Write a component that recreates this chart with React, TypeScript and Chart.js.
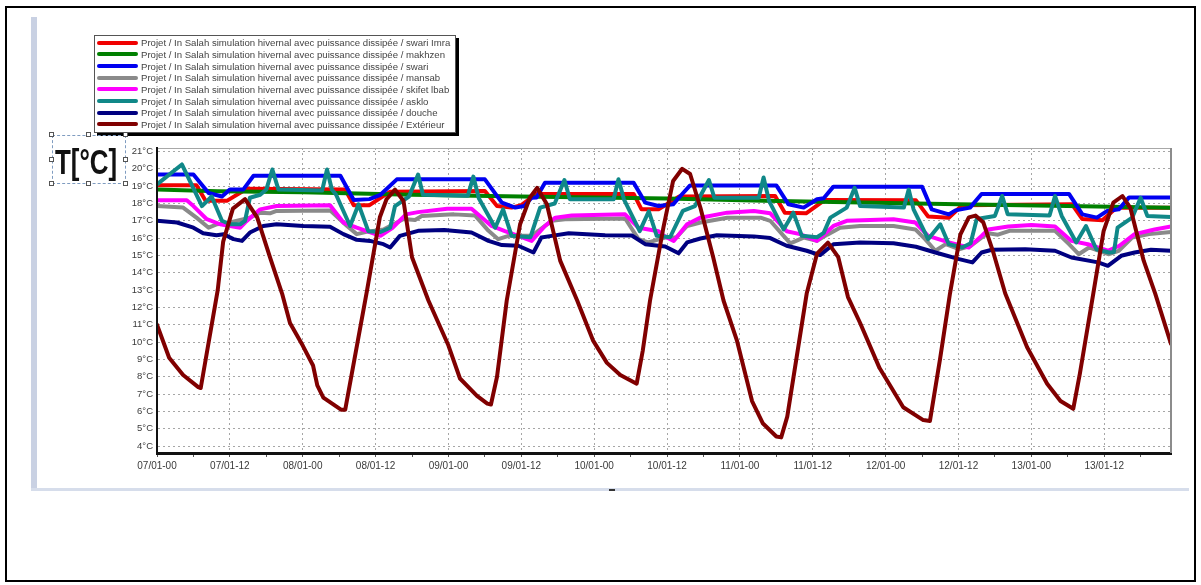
import React, { useEffect, useRef } from 'react';
import { Chart, registerables } from 'chart.js';

Chart.register(...registerables);

// ---------- DATA ----------
const seriesLabels = [
  'Projet / In Salah simulation hivernal avec puissance dissipée / swari Imra',
  'Projet / In Salah simulation hivernal avec puissance dissipée / makhzen',
  'Projet / In Salah simulation hivernal avec puissance dissipée / swari',
  'Projet / In Salah simulation hivernal avec puissance dissipée / mansab',
  'Projet / In Salah simulation hivernal avec puissance dissipée / skifet lbab',
  'Projet / In Salah simulation hivernal avec puissance dissipée / asklo',
  'Projet / In Salah simulation hivernal avec puissance dissipée / douche',
  'Projet / In Salah simulation hivernal avec puissance dissipée / Extérieur',
];
const seriesColors = ['#f00000', '#008000', '#0000f0', '#8a8a8a', '#ff00ff', '#108888', '#000080', '#800000'];

// [hour since 07/01-00, °C]
const swariImra: [number, number][] = [
  [0, 19.05], [6.5, 19.05], [8, 18.15], [11.5, 18.15], [14.8, 18.85], [31, 18.8], [32.4, 17.9], [35, 17.9],
  [38.4, 18.68], [54, 18.72], [56, 17.85], [58.4, 17.76], [60, 17.9], [62.5, 18.55], [78.5, 18.55],
  [79.8, 17.66], [82.6, 17.66], [86, 18.4], [101.8, 18.43], [103.4, 17.47], [106.9, 17.43], [110, 18.2],
  [125, 18.18], [127, 17.25], [130.4, 17.18], [132.6, 17.9], [150.7, 17.95], [152.4, 17.1], [155.7, 17.03],
  [158, 17.75], [167, 17.75],
];
const makhzen: [number, number][] = [
  [0, 18.8], [10, 18.7], [24, 18.65], [42, 18.5], [60, 18.4], [84, 18.28], [100, 18.15], [132, 17.95],
  [145, 17.88], [167, 17.75],
];
const swari: [number, number][] = [
  [0, 19.67], [6, 19.67], [8.5, 18.6], [10.7, 18.4], [12, 18.8], [14.2, 18.8], [15.9, 19.6], [30.2, 19.6],
  [32.4, 18.2], [35, 18.25], [36.8, 18.5], [39.5, 19.39], [54, 19.39], [56.8, 18.05], [59, 17.76],
  [60.5, 17.85], [61.7, 18.33], [62.5, 18.35], [63.9, 19.2], [78.5, 19.2], [80.4, 18.05], [82.6, 17.85],
  [85, 17.95], [86.2, 18.43], [87.8, 19.04], [102, 19.04], [104, 17.95], [106.5, 17.76], [108.7, 18.24],
  [109.8, 18.3], [111.4, 18.97], [126, 18.97], [127.6, 17.66], [130.4, 17.37], [131.5, 17.6], [133.9, 17.76],
  [135.8, 18.55], [150.2, 18.55], [152.4, 17.37], [154.8, 17.18], [156.5, 17.57], [158.4, 17.66],
  [160.1, 18.35], [167, 18.35],
];
const mansab: [number, number][] = [
  [0, 17.85], [4.3, 17.76], [6.5, 17.18], [8.5, 16.6], [9.9, 16.8], [12, 16.9], [15.3, 17.18], [17, 17.47],
  [18.6, 17.43], [19.7, 17.57], [28.5, 17.6], [31.3, 16.7], [32.9, 16.23], [34.5, 16.36], [37.3, 16.5],
  [40.6, 17.1], [42.5, 17.05], [43.6, 17.28], [48.9, 17.37], [52.4, 17.3], [54.6, 16.42], [56.2, 15.94],
  [57.9, 16.13], [61.7, 16.13], [62.8, 16.42], [65, 17.0], [67.2, 17.09], [77.1, 17.13], [79.3, 15.94],
  [80.9, 15.75], [83.7, 16.03], [85.5, 16.03], [87.3, 16.7], [89.5, 16.9], [93.9, 17.18], [99.4, 17.18],
  [101, 17.0], [103.2, 16.13], [104.3, 15.7], [106.5, 16.03], [108.7, 15.84], [110.4, 16.2], [112.5, 16.6],
  [115.8, 16.7], [121.3, 16.7], [124.9, 16.5], [126.5, 15.94], [128.2, 15.27], [129.9, 15.65],
  [132.1, 15.36], [134, 15.55], [135.8, 16.03], [136.9, 16.28], [138.5, 16.2], [140.4, 16.42],
  [147.9, 16.42], [150.2, 15.65], [151.8, 15.07], [153.5, 15.46], [156.8, 15.07], [158.4, 15.27],
  [160.6, 16.03], [163.4, 16.23], [167, 16.36],
];
const skifetLbab: [number, number][] = [
  [0, 18.18], [4.9, 18.18], [6, 17.85], [8.2, 17.09], [10.4, 16.8], [13.7, 16.6], [14.5, 16.9], [17, 17.66],
  [19.7, 17.85], [28.5, 17.9], [30.7, 16.9], [32.9, 16.6], [36.8, 16.13], [38.8, 16.6], [41, 17.37],
  [43, 17.5], [47.8, 17.7], [51.8, 17.7], [55.1, 16.7], [57.3, 16.4], [59.5, 16.13], [61.7, 15.84],
  [63.9, 16.7], [65.6, 17.18], [68.3, 17.3], [77.1, 17.37], [79.3, 16.6], [82.6, 16.4], [83.5, 16.13],
  [85.1, 15.84], [87.3, 16.8], [89.5, 17.18], [93.9, 17.47], [98.3, 17.57], [101, 17.43], [103.7, 16.4],
  [105.9, 16.23], [108.7, 15.84], [111.4, 16.7], [113.6, 17.0], [121.3, 17.09], [124.9, 16.9],
  [127, 16.13], [130.4, 15.75], [133.7, 15.46], [135.8, 16.13], [136.9, 16.5], [140.2, 16.67],
  [144, 16.76], [147.9, 16.67], [150.6, 15.84], [153.3, 15.65], [156.6, 15.27], [158.5, 15.56],
  [161, 16.23], [164.3, 16.5], [167, 16.67],
];
const asklo: [number, number][] = [
  [0, 19.1], [4.1, 20.25], [7.4, 17.85], [9, 18.4], [10.7, 17.0], [12, 16.8], [13.7, 16.8], [14.5, 17.0],
  [15.3, 18.33], [17, 18.5], [18, 18.8], [19, 19.96], [20, 18.8], [27.2, 18.75], [28, 19.96], [28.8, 18.8],
  [29.5, 18.5], [31.8, 16.7], [33.2, 17.95], [34.8, 16.4], [36.8, 16.35], [38.4, 16.6], [39.2, 17.85],
  [41.5, 18.4], [43, 19.67], [43.8, 18.5], [51.2, 18.45], [52.1, 19.55], [53, 18.3], [55.7, 16.6],
  [57, 17.66], [58.4, 16.13], [61.5, 16.05], [63.1, 17.76], [65.5, 18.0], [67.1, 19.35], [68, 18.24],
  [75.2, 18.24], [76, 19.4], [76.9, 18.24], [79.5, 16.4], [81, 17.55], [82.3, 16.13], [84.5, 16.05],
  [86.6, 17.57], [88.6, 17.85], [90.9, 19.35], [91.8, 18.33], [99.1, 18.33], [99.9, 19.5], [100.8, 18.15],
  [103.2, 16.5], [104.8, 17.47], [106.2, 16.13], [108.7, 16.05], [109.8, 16.3], [110.9, 17.18],
  [113.6, 17.76], [114.9, 18.9], [115.8, 17.85], [123, 17.76], [123.8, 18.8], [124.6, 17.66], [127, 15.94],
  [129, 16.8], [130.4, 15.65], [132.6, 15.46], [134, 15.7], [135, 17.1], [138, 17.28], [139.2, 18.43],
  [140.1, 17.38], [147, 17.3], [147.9, 18.43], [149, 17.28], [151.4, 15.75], [153, 16.7], [154.7, 15.36],
  [156.8, 15.17], [157.6, 15.2], [158.2, 16.6], [160.6, 17.18], [162, 18.33], [163.1, 17.28], [167, 17.22],
];
const douche: [number, number][] = [
  [0, 17.0], [3.3, 16.9], [6, 16.6], [7.6, 16.28], [9.8, 16.17], [11, 16.22], [12.6, 15.94], [14, 15.84],
  [15.3, 16.32], [17.5, 16.7], [19.7, 16.8], [24.1, 16.7], [28.5, 16.66], [30.7, 16.23], [32.9, 15.9],
  [35.1, 15.84], [37.3, 15.65], [38.4, 15.46], [40, 16.13], [43, 16.42], [47.3, 16.47], [51.8, 16.32],
  [54.6, 15.84], [56.8, 15.6], [59.5, 15.56], [62, 15.17], [63.3, 16.03], [65, 16.13], [67.8, 16.28],
  [73.8, 16.17], [78.2, 16.15], [80.4, 15.65], [83.7, 15.52], [85.9, 15.13], [87.3, 15.75], [89.5, 15.98],
  [92.2, 16.17], [98.3, 16.1], [101, 16.0], [103.7, 15.56], [107, 15.27], [109.2, 15.02], [111.4, 15.65],
  [115.8, 15.75], [121.3, 15.7], [125, 15.5], [128.2, 15.17], [132.1, 14.79], [134.3, 14.6], [135.8, 15.17],
  [137.5, 15.33], [143, 15.36], [147.9, 15.27], [150.6, 14.88], [155, 14.6], [156.6, 14.4], [158.8, 14.98],
  [161, 15.17], [163.7, 15.33], [167, 15.27],
];
const exterieur: [number, number][] = [
  [0, 11.0], [2, 9.1], [4.3, 8.1], [6.8, 7.4], [7.2, 7.35], [10, 13.0], [10.9, 15.8], [12.5, 17.7],
  [14.5, 18.25], [16.5, 17.2], [18.6, 14.9], [20.6, 12.8], [21.9, 11.1], [24, 9.8], [25.7, 8.65], [26.4, 7.5],
  [27.4, 6.8], [30.3, 6.1], [31, 6.1], [34.6, 13.0], [36.7, 17.2], [37.8, 18.24], [39.2, 18.8], [40.6, 18.14],
  [42, 14.9], [44.7, 12.4], [48, 9.8], [49.9, 7.9], [52.7, 6.9], [54.4, 6.45], [55, 6.4], [56, 8.0],
  [57.6, 12.4], [59.8, 16.8], [61.4, 18.33], [62.6, 18.9], [64.2, 17.97], [66.4, 14.7], [69.2, 12.4],
  [71.8, 10.1], [74.1, 8.8], [76.3, 8.1], [79, 7.6], [80, 9.5], [81.2, 12.4], [83.4, 16.6], [85, 19.3],
  [86.5, 20.0], [87.8, 19.7], [89.5, 17.75], [91.6, 14.9], [93.3, 12.4], [95.5, 10.1], [98, 6.6], [99.8, 5.3],
  [102, 4.55], [102.8, 4.5], [103.8, 5.7], [107, 12.8], [108.7, 15.1], [110.5, 15.74], [112.2, 14.9],
  [113.8, 12.6], [115.8, 11.1], [119, 8.5], [122.9, 6.24], [126.2, 5.5], [127.3, 5.45], [129, 9.1],
  [130.6, 12.8], [132.3, 16.2], [133.7, 17.2], [134.8, 17.3], [136.1, 16.9], [137.8, 15.1], [139.7, 12.8],
  [143.3, 9.7], [146.6, 7.6], [148.8, 6.6], [150.9, 6.15], [152, 8.2], [154.2, 12.8], [155.9, 16.4],
  [157.5, 18.05], [159, 18.43], [160.3, 17.75], [162.5, 14.7], [164.4, 12.8], [167, 9.9],
];

const xMajorLabels = [
  '07/01-00', '07/01-12', '08/01-00', '08/01-12', '09/01-00', '09/01-12', '10/01-00',
  '10/01-12', '11/01-00', '11/01-12', '12/01-00', '12/01-12', '13/01-00', '13/01-12',
];
const xTickHours = Array.from({ length: 28 }, (_, i) => i * 6);
const yTickValues = [4, 5, 6, 7, 8, 9, 10, 11, 12, 13, 14, 15, 16, 17, 18, 19, 20, 21];
const yMin = 3.6;
const yMax = 21.2;
const xMax = 167;

const FONT = '"Liberation Sans", Arial, sans-serif';

const framePlugin = {
  id: 'frame',
  afterDraw(chart: any) {
    const { ctx, chartArea: a } = chart;
    ctx.save();
    ctx.strokeStyle = '#a8a8a8';
    ctx.lineWidth = 1;
    ctx.beginPath();
    ctx.moveTo(a.left, a.top + 0.5);
    ctx.lineTo(a.right, a.top + 0.5);
    ctx.stroke();
    ctx.strokeStyle = '#8c8c8c';
    ctx.lineWidth = 2;
    ctx.beginPath();
    ctx.moveTo(a.right, a.top);
    ctx.lineTo(a.right, a.bottom);
    ctx.stroke();
    ctx.strokeStyle = '#111';
    ctx.lineWidth = 2;
    ctx.beginPath();
    ctx.moveTo(a.left, a.top);
    ctx.lineTo(a.left, a.bottom + 1);
    ctx.lineTo(a.right + 1, a.bottom + 1);
    ctx.stroke();
    ctx.restore();
  },
};

const handle = (x: number, y: number, key: string) => (
  <div
    key={key}
    style={{
      position: 'absolute', left: x - 3, top: y - 3, width: 5, height: 5,
      border: '1px solid #555', background: '#fff', boxSizing: 'border-box',
    }}
  />
);

export default function App() {
  const ref = useRef<HTMLCanvasElement>(null);

  useEffect(() => {
    const canvas = ref.current;
    if (!canvas) return;
    const allSeries = [swariImra, makhzen, swari, mansab, skifetLbab, asklo, douche, exterieur];
    const chart = new Chart(canvas, {
      type: 'line',
      data: {
        datasets: allSeries.map((s, i) => ({
          label: seriesLabels[i],
          data: s.map(([x, y]) => ({ x, y })),
          borderColor: seriesColors[i],
          backgroundColor: seriesColors[i],
          borderWidth: 4,
          pointRadius: 0,
          tension: 0,
          fill: false,
          order: 7 - i,
          borderJoinStyle: 'round',
          borderCapStyle: 'round',
        })),
      },
      options: {
        responsive: false,
        maintainAspectRatio: false,
        animation: false,
        devicePixelRatio: 1,
        layout: { padding: { left: 110, right: 30, top: 148, bottom: 100 } },
        plugins: { legend: { display: false }, tooltip: { enabled: false } },
        scales: {
          x: {
            type: 'linear',
            min: 0,
            max: xMax,
            bounds: 'data',
            afterFit: (s: any) => { s.height = 32; },
            afterBuildTicks: (ax: any) => { ax.ticks = xTickHours.map((v) => ({ value: v })); },
            grid: {
              color: (ctx: any) => (ctx.tick && ctx.tick.value % 12 === 0 ? '#a6a6a6' : 'rgba(0,0,0,0)'),
              lineWidth: 1,
              drawTicks: true,
              tickLength: 4,
              tickColor: '#555',
              tickWidth: 1,
              tickBorderDash: [],
            },
            border: { display: true, color: '#111', width: 2, dash: [2, 3] },
            ticks: {
              autoSkip: false,
              maxRotation: 0,
              padding: 3,
              color: '#3a3a3a',
              font: { family: FONT, size: 10 },
              callback: (v: any) => (Number(v) % 12 === 0 ? xMajorLabels[Number(v) / 12] : ''),
            },
          },
          y: {
            type: 'linear',
            min: yMin,
            max: yMax,
            bounds: 'data',
            afterFit: (s: any) => { s.width = 47; },
            afterBuildTicks: (ax: any) => { ax.ticks = yTickValues.map((v) => ({ value: v })); },
            grid: { color: '#a6a6a6', lineWidth: 1, drawTicks: false },
            border: { display: true, color: '#111', width: 2, dash: [2, 3] },
            ticks: {
              padding: 4,
              color: '#3a3a3a',
              font: { family: FONT, size: 9.5 },
              callback: (v: any) => `${v}°C`,
            },
          },
        },
      },
      plugins: [framePlugin],
    } as any);
    return () => chart.destroy();
  }, []);

  const rowH = 11.66;

  return (
    <div style={{ position: 'fixed', left: 0, top: 0, width: 1201, height: 585, background: '#fff', overflow: 'hidden' }}>
      {/* outer frame */}
      <div style={{ position: 'absolute', left: 5, top: 6, width: 1191, height: 576, border: '2px solid #000', boxSizing: 'border-box' }} />
      {/* window side bar and bottom edge */}
      <div style={{ position: 'absolute', left: 31, top: 17, width: 6, height: 474, background: '#c9d1e3' }} />
      <div style={{ position: 'absolute', left: 31, top: 488, width: 1158, height: 3, background: '#d6ddeb' }} />
      <div style={{ position: 'absolute', left: 609, top: 489, width: 6, height: 2, background: '#333' }} />
      <canvas ref={ref} width={1201} height={585} style={{ position: 'absolute', left: 0, top: 0 }} />
      {/* legend */}
      <div
        style={{
          position: 'absolute', left: 94, top: 35, width: 362, height: 98, boxSizing: 'border-box',
          border: '1px solid #555', background: '#fff', boxShadow: '3px 3px 0 #000', paddingTop: 1, overflow: 'hidden',
        }}
      >
        {seriesLabels.map((lab, i) => (
          <div key={lab} style={{ display: 'flex', alignItems: 'center', height: rowH, whiteSpace: 'nowrap' }}>
            <span style={{ display: 'inline-block', width: 41, height: 4, marginLeft: 2, marginRight: 3, background: seriesColors[i], borderRadius: 2, flex: 'none' }} />
            <span style={{ fontFamily: FONT, fontSize: 9.6, color: '#444', lineHeight: '11px' }}>{lab}</span>
          </div>
        ))}
      </div>
      {/* axis title with selection box */}
      <div style={{ position: 'absolute', left: 52, top: 135, width: 74, height: 49, border: '1px dashed #7f9cc0', boxSizing: 'border-box' }} />
      {[
        [52, 135], [89, 135], [126, 135], [52, 160], [126, 160], [52, 184], [89, 184], [126, 184],
      ].map(([x, y], k) => handle(x, y, 'h' + k))}
      <div
        style={{
          position: 'absolute', left: 55, top: 144, fontFamily: FONT, fontWeight: 'bold', fontSize: 35,
          lineHeight: '35px', color: '#111', transform: 'scaleX(0.74)', transformOrigin: 'left top', whiteSpace: 'nowrap',
        }}
      >
        T[°C]
      </div>
    </div>
  );
}
